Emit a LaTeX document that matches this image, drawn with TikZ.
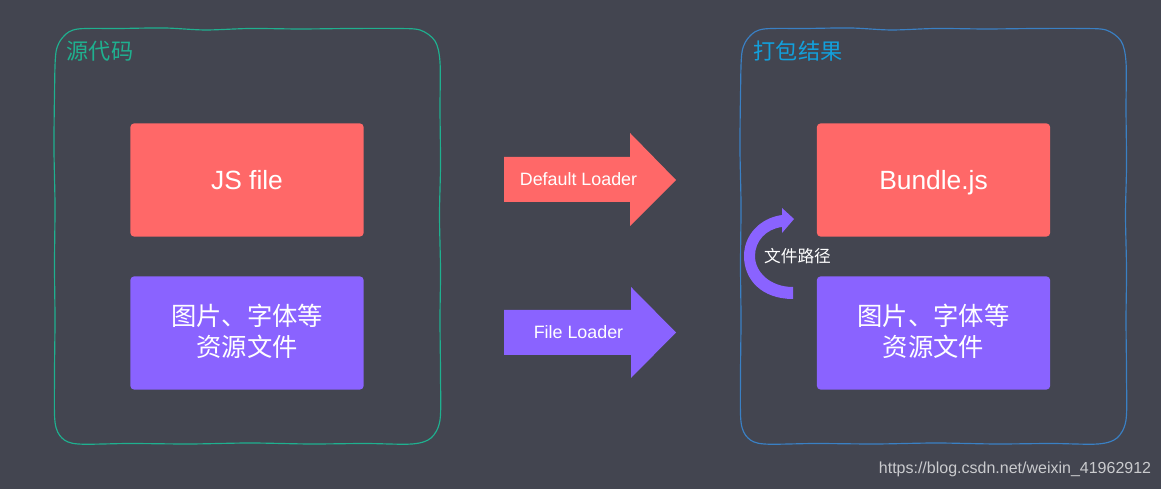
\documentclass[tikz,border=0pt]{standalone}
\usepackage{fontspec}
\usepackage{xcolor}
\setmainfont{Liberation Sans}
\newfontfamily\cjk{Noto Sans CJK SC}
\usetikzlibrary{calc}
\definecolor{bgcolor}{HTML}{434550}
\definecolor{redfill}{HTML}{FF6868}
\definecolor{purplefill}{HTML}{8A63FF}
\definecolor{framegreen}{HTML}{1FB08F}
\definecolor{frameblue}{HTML}{3A80C4}
\definecolor{titleblue}{HTML}{12A0DC}
\tikzset{
  filebox/.style={rounded corners=1pt,minimum width=2.33cm,minimum height=1.13cm,inner sep=0pt,text=white,align=center},
  jsbox/.style={filebox,fill=redfill,text depth=0pt,font=\fontsize{7.5}{9}\selectfont},
  assetlabel/.style={text=white,align=center,inner sep=0pt,yshift=0.5pt,font=\cjk\fontsize{7.2}{8.6}\selectfont},
  loaderlabel/.style={text=white,inner sep=0pt,font=\fontsize{5.08}{6}\selectfont},
  frametitle/.style={inner sep=0pt,font=\cjk\fontsize{6.3}{7}\selectfont}
}
\begin{document}
\begin{tikzpicture}[x=0.01cm,y=-0.01cm]
\useasboundingbox (0,0) rectangle (1161,489);
\fill[bgcolor] (0,0) rectangle (1161,489);
%% the two hand drawn frames
\foreach \fshift/\fcolor in {0/framegreen, 686/frameblue}
  \draw[shift={(\fshift,0)},color=\fcolor,line width=0.33pt] plot[smooth cycle,tension=0.5] coordinates {
    (78,29) (120,28.5) (165,28) (205,30) (250,28.5) (300,29) (350,28.5) (395,28.5) (420,30) (435,41)
    (440,62) (440,110) (440.5,165) (439.5,215) (440.5,270) (440,320) (440.5,375) (440,420) (431,438) (412,444)
    (365,443.5) (310,444) (250,443) (190,444) (130,443.5) (78,444) (62,438) (55,422)
    (54.5,375) (55,320) (54.5,265) (55,205) (54,150) (54.5,95) (56,52) (64,36)};
\node[frametitle,text=framegreen] (srctitle) at (100,51) {源代码};
\node[frametitle,text=titleblue] (bundletitle) at (798,51) {打包结果};
%% boxes
\node[jsbox] (jsfile) at (247,180) {JS file};
\node[filebox,fill=purplefill] (assets) at (247,333) {};
\node[assetlabel] (assetstext) at (assets) {图片、字体等\\资源文件};
\node[jsbox] (bundle) at (933.5,180) {Bundle.js};
\node[filebox,fill=purplefill] (bundleassets) at (933.5,333) {};
\node[assetlabel] (bundleassetstext) at (bundleassets) {图片、字体等\\资源文件};
%% loader arrows
\fill[redfill] (504,157) -- (630,157) -- (630,133) -- (676,180) -- (630,226) -- (630,202) -- (504,202) -- cycle;
\node[loaderlabel] (defaultloader) at (578.5,179) {Default Loader};
\fill[purplefill] (504,310) -- (631,310) -- (631,287) -- (676,332.5) -- (631,378) -- (631,355) -- (504,355) -- cycle;
\node[loaderlabel] (fileloader) at (578.5,332) {File Loader};
%% curved arrow
\fill[purplefill] (793,299) .. controls (762,299) and (744,280) .. (744,256)
  .. controls (744,235) and (760,218) .. (782,215) -- (782,208) -- (794,219) -- (782,233) -- (782,227)
  .. controls (766,229) and (755,241) .. (755,256) .. controls (755,272) and (770,287) .. (793,287) -- cycle;
\node[text=white,inner sep=0pt,font=\cjk\fontsize{4.75}{6}\selectfont] (pathlabel) at (797.5,256) {文件路径};
\node[text=white!72!bgcolor,inner sep=0pt,font=\fontsize{4.55}{6}\selectfont] (watermark) at (1015,469) {https://blog.csdn.net/weixin\_41962912};
\end{tikzpicture}
\end{document}
